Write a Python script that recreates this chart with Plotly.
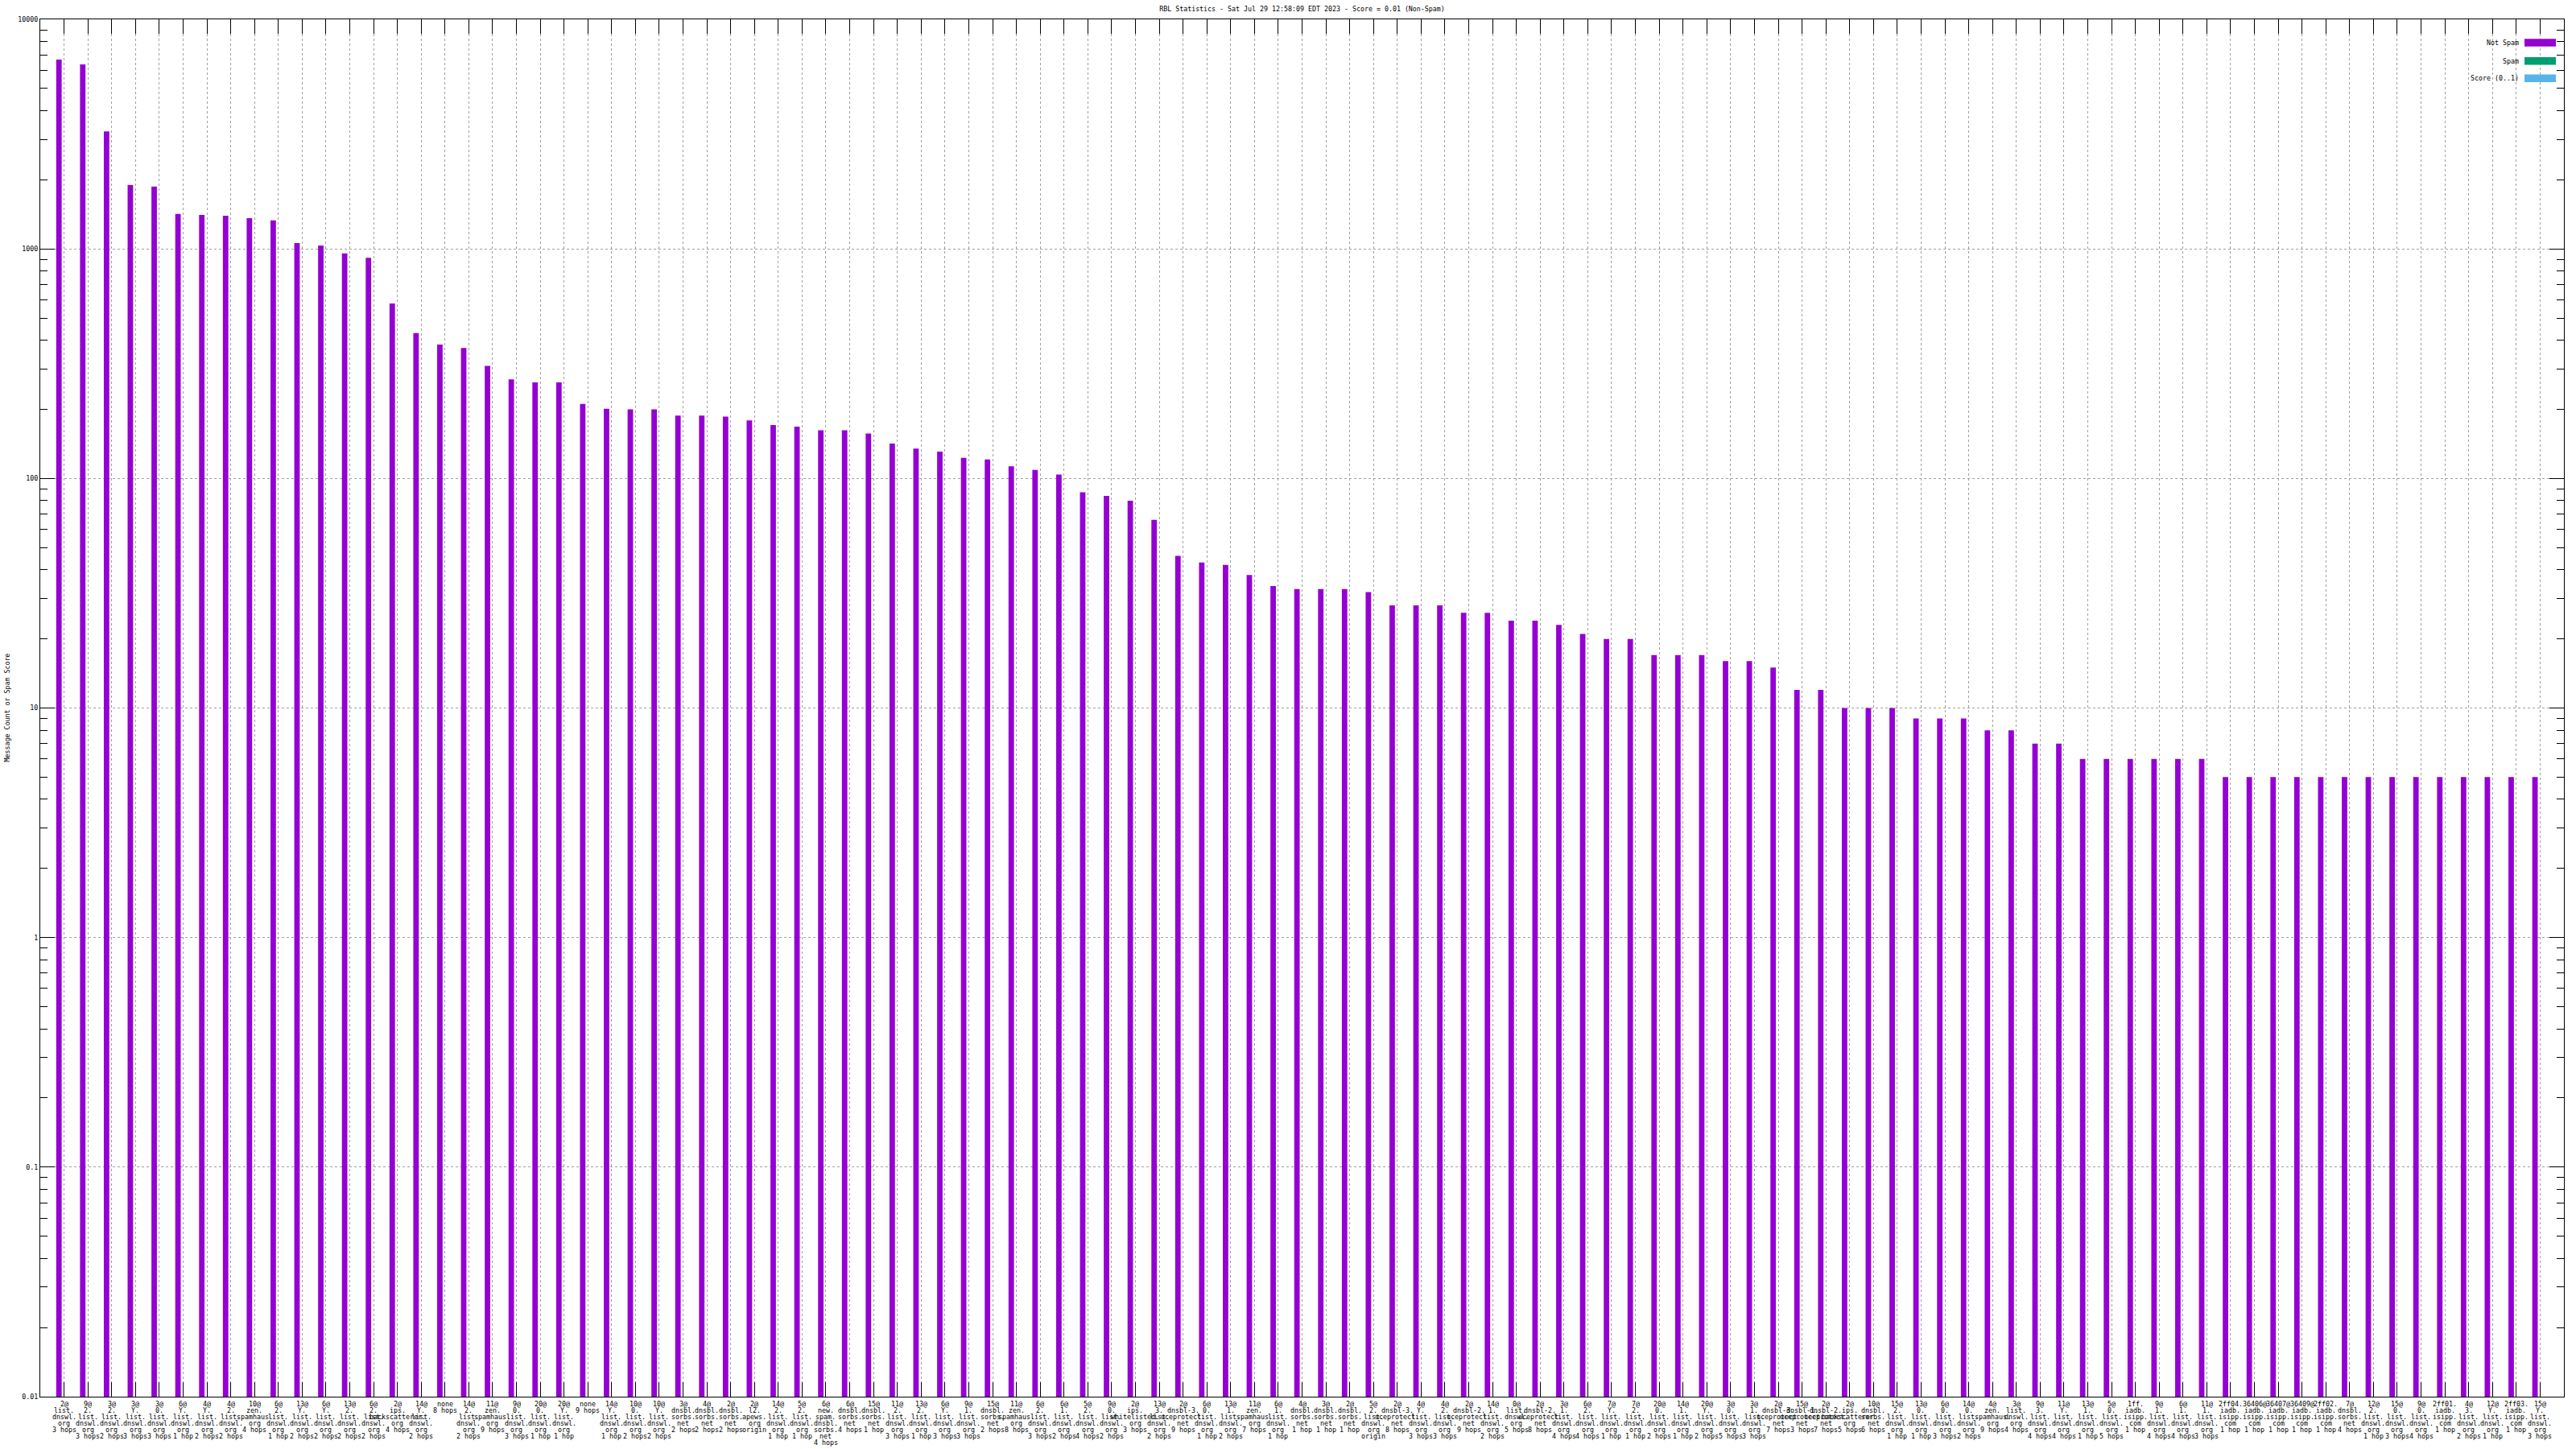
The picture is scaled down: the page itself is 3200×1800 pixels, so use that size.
import re
import plotly.graph_objects as go

title_text = "RBL Statistics - Sat Jul 29 12:58:09 EDT 2023 - Score = 0.01 (Non-Spam)"
y_title = "Message Count or Spam Score"

labels = [
    "2@list.dnswl.org 3 hops", "9@2.list.dnswl.org 3 hops", "3@2.list.dnswl.org 2 hops",
    "3@Y.list.dnswl.org 3 hops", "3@0.list.dnswl.org 3 hops", "6@Y.list.dnswl.org 1 hop",
    "4@Y.list.dnswl.org 2 hops", "4@2.list.dnswl.org 2 hops", "10@zen.spamhaus.org 4 hops",
    "6@2.list.dnswl.org 1 hop", "13@Y.list.dnswl.org 2 hops", "6@Y.list.dnswl.org 2 hops",
    "13@2.list.dnswl.org 2 hops", "6@2.list.dnswl.org 2 hops", "2@ips.backscatterer.org 4 hops",
    "14@Y.list.dnswl.org 2 hops", "none 8 hops", "14@2.list.dnswl.org 2 hops",
    "11@zen.spamhaus.org 9 hops", "9@0.list.dnswl.org 3 hops", "20@0.list.dnswl.org 1 hop",
    "20@Y.list.dnswl.org 1 hop", "none 9 hops", "14@Y.list.dnswl.org 1 hop",
    "10@0.list.dnswl.org 2 hops", "10@Y.list.dnswl.org 2 hops", "3@dnsbl.sorbs.net 2 hops",
    "4@dnsbl.sorbs.net 2 hops", "2@dnsbl.sorbs.net 2 hops", "2@l2.apews.org origin",
    "14@2.list.dnswl.org 1 hop", "5@2.list.dnswl.org 1 hop", "6@new.spam.dnsbl.sorbs.net 4 hops",
    "6@dnsbl.sorbs.net 4 hops", "15@dnsbl.sorbs.net 1 hop", "11@2.list.dnswl.org 3 hops",
    "13@2.list.dnswl.org 1 hop", "6@Y.list.dnswl.org 3 hops", "9@1.list.dnswl.org 3 hops",
    "15@dnsbl.sorbs.net 2 hops", "11@zen.spamhaus.org 8 hops", "6@2.list.dnswl.org 3 hops",
    "6@1.list.dnswl.org 2 hops", "5@2.list.dnswl.org 4 hops", "9@0.list.dnswl.org 2 hops",
    "2@ips.whitelisted.org 3 hops", "13@3.list.dnswl.org 2 hops", "2@dnsbl-3.uceprotect.net 9 hops",
    "6@0.list.dnswl.org 1 hop", "13@1.list.dnswl.org 2 hops", "11@zen.spamhaus.org 7 hops",
    "6@1.list.dnswl.org 1 hop", "4@dnsbl.sorbs.net 1 hop", "3@dnsbl.sorbs.net 1 hop",
    "2@dnsbl.sorbs.net 1 hop", "5@2.list.dnswl.org origin", "2@dnsbl-3.uceprotect.net 8 hops",
    "4@Y.list.dnswl.org 3 hops", "4@2.list.dnswl.org 3 hops", "2@dnsbl-2.uceprotect.net 9 hops",
    "14@1.list.dnswl.org 2 hops", "0@list.dnswl.org 5 hops", "2@dnsbl-2.uceprotect.net 8 hops",
    "3@1.list.dnswl.org 4 hops", "6@2.list.dnswl.org 4 hops", "7@Y.list.dnswl.org 1 hop",
    "7@2.list.dnswl.org 1 hop", "20@0.list.dnswl.org 2 hops", "14@1.list.dnswl.org 1 hop",
    "20@Y.list.dnswl.org 2 hops", "3@0.list.dnswl.org 5 hops", "3@1.list.dnswl.org 3 hops",
    "2@dnsbl-3.uceprotect.net 7 hops", "15@dnsbl-1.uceprotect.net 3 hops", "2@dnsbl-2.uceprotect.net 7 hops",
    "2@ips.backscatterer.org 5 hops", "10@dnsbl.sorbs.net 6 hops", "15@2.list.dnswl.org 1 hop",
    "13@0.list.dnswl.org 1 hop", "6@0.list.dnswl.org 3 hops", "14@0.list.dnswl.org 2 hops",
    "4@zen.spamhaus.org 9 hops", "3@list.dnswl.org 4 hops", "9@3.list.dnswl.org 4 hops",
    "11@Y.list.dnswl.org 4 hops", "13@1.list.dnswl.org 1 hop", "5@0.list.dnswl.org 5 hops",
    "1ff.iadb.isipp.com 1 hop", "9@1.list.dnswl.org 4 hops", "6@1.list.dnswl.org 4 hops",
    "11@1.list.dnswl.org 3 hops", "2ff04.iadb.isipp.com 1 hop", "36406@iadb.isipp.com 1 hop",
    "36407@iadb.isipp.com 1 hop", "36409@iadb.isipp.com 1 hop", "2ff02.iadb.isipp.com 1 hop",
    "7@dnsbl.sorbs.net 4 hops", "12@2.list.dnswl.org 1 hop", "15@0.list.dnswl.org 3 hops",
    "9@0.list.dnswl.org 4 hops", "2ff01.iadb.isipp.com 1 hop", "4@3.list.dnswl.org 2 hops",
    "12@Y.list.dnswl.org 1 hop", "2ff03.iadb.isipp.com 1 hop", "15@Y.list.dnswl.org 3 hops",
]

not_spam = [
    6680, 6360, 3250, 1900, 1870, 1420, 1405, 1395, 1360, 1330,
    1060, 1035, 955, 915, 578, 430, 383, 370, 309, 270,
    262, 262, 211, 201, 200, 200, 188, 188, 186, 179,
    171, 168, 162, 162, 157, 142, 135, 131, 123, 121,
    113, 109, 104, 87, 84, 80, 66, 46, 43, 42,
    38, 34, 33, 33, 33, 32, 28, 28, 28, 26,
    26, 24, 24, 23, 21, 20, 20, 17, 17, 17,
    16, 16, 15, 12, 12, 10, 10, 10, 9, 9,
    9, 8, 8, 7, 7, 6, 6, 6, 6, 6,
    6, 5, 5, 5, 5, 5, 5, 5, 5, 5,
    5, 5, 5, 5, 5,
]
spam = [0] * len(labels)
score = [0] * len(labels)

series_names = ["Not Spam", "Spam", "Score (0..1)"]
series_colors = ["#9400d3", "#009e73", "#56b4e9"]

y_tickvals = [0.01, 0.1, 1, 10, 100, 1000, 10000]
y_ticktext = ["0.01", "0.1", "1", "10", "100", "1000", "10000"]


def split_label(lbl):
    host, _, hops = lbl.partition(" ")
    parts = re.findall(r"[^.@]*[.@]|[^.@]+", host)
    if hops:
        parts.append(hops)
    return parts


idx = list(range(len(labels)))

MONO = "DejaVu Sans Mono"
FS = 8.3
W, H = 3200, 1800
L, R, T, B = 50, 15, 24, 65
PW, PH = W - L - R, H - T - B

fig = go.Figure()
for vals, name, col, off in zip([not_spam, spam, score], series_names, series_colors, [-0.33, -0.1, 0.13]):
    fig.add_trace(go.Bar(
        x=idx, y=[v if v > 0 else None for v in vals], name=name,
        marker=dict(color=col, line=dict(width=0)),
        width=0.23, offset=off, showlegend=False,
    ))

minor_vals = [m * 10 ** e for e in range(-2, 4) for m in range(2, 10)]

fig.update_layout(
    width=W, height=H,
    paper_bgcolor="white", plot_bgcolor="white",
    margin=dict(l=L, r=R, t=T, b=B, autoexpand=False),
    barmode="overlay",
    title=dict(text=title_text, x=0.5, xref="paper", xanchor="center",
               y=1 - 11 / H, yref="container", yanchor="middle",
               font=dict(family=MONO, size=FS, color="black")),
    font=dict(family=MONO, color="black"),
)
fig.update_xaxes(
    range=[-1, len(labels)], tickmode="array", tickvals=idx, ticktext=labels,
    showticklabels=False,
    ticks="inside", ticklen=18, tickwidth=1, tickcolor="black",
    showline=True, linecolor="black", linewidth=1, mirror="ticks",
    showgrid=True, gridcolor="#a0a0a0", gridwidth=1, griddash="3px,3px",
    zeroline=False, automargin=False,
)
fig.update_yaxes(
    type="log", range=[-2, 4], tickmode="array", tickvals=y_tickvals, ticktext=y_ticktext,
    ticks="inside", ticklen=18, tickwidth=1, tickcolor="black",
    minor=dict(tickmode="array", tickvals=minor_vals, ticks="inside", ticklen=9,
               tickwidth=1, tickcolor="black", showgrid=False),
    showline=True, linecolor="black", linewidth=1, mirror="ticks",
    showgrid=True, gridcolor="#a0a0a0", gridwidth=1, griddash="3px,3px",
    zeroline=False, tickfont=dict(family=MONO, size=FS, color="black"),
    automargin=False,
)

# multi-line category labels below the x axis, tight 8px line pitch
for i, lbl in zip(idx, labels):
    for j, part in enumerate(split_label(lbl)):
        fig.add_annotation(text=part, x=i, xref="x", y=0, yref="paper",
                           yshift=-(8.5 + 8 * j), xanchor="center", yanchor="middle",
                           showarrow=False, borderpad=0,
                           font=dict(family=MONO, size=FS, color="black"))

fig.add_annotation(text=y_title, textangle=-90, xref="paper", yref="paper",
                   x=-42 / PW, y=0.5, showarrow=False, xanchor="center", yanchor="middle",
                   font=dict(family=MONO, size=FS, color="black"))

legend_y = [1 - 29 / PH, 1 - 51.7 / PH, 1 - 73.3 / PH]
for name, col, ly in zip(series_names, series_colors, legend_y):
    fig.add_annotation(text=name, xref="paper", yref="paper", x=(3131 - L) / PW, y=ly,
                       xanchor="right", yanchor="middle", showarrow=False,
                       font=dict(family=MONO, size=FS, color="black"))
    fig.add_shape(type="rect", xref="paper", yref="paper",
                  x0=(3136 - L) / PW, x1=(3175 - L) / PW,
                  y0=ly - 4.7 / PH, y1=ly + 4.7 / PH,
                  fillcolor=col, line=dict(width=0))

fig.write_html("out.html", config={"displayModeBar": False},
               post_script="document.body.style.margin='0px';document.body.style.overflow='hidden';")
